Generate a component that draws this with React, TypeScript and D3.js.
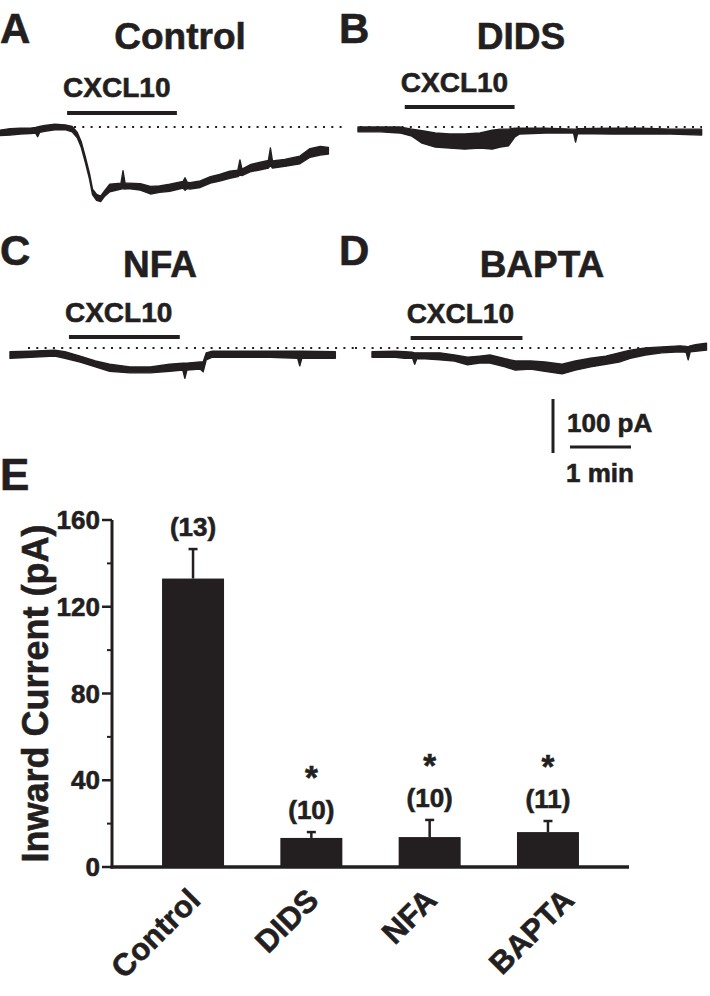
import React from "react";
import * as d3 from "d3";

const INK = "#231f20";
const FONT = "'Liberation Sans', Arial, Helvetica, sans-serif";

type Env = [number, number, number]; // [time (s), upper (pA), lower (pA)]

// ---- Current traces (inward current negative), envelope of the noisy record ----
const controlTrace: Env[] = [
  [0, -6, -16], [10, -3, -15], [20, -2, -13], [30, -2, -12], [35, -1, -11], [37, 0, -18],
  [39, 1, -10], [44, 3, -8], [54, 5, -5], [64, 4, -5], [71, 1, -9], [76, -10, -20],
  [80, -28, -38], [84, -56, -66], [88, -86, -96], [91, -115, -125], [95, -125, -136],
  [99, -128, -138], [103, -118, -128], [108, -106, -120], [119, -104, -115], [121, -81, -114],
  [123, -104, -115], [126, -104, -114], [138, -105, -117], [148, -110, -124], [157, -109, -121],
  [167, -106, -119], [180, -101, -113], [182, -94, -117], [184, -102, -114], [187, -103, -115],
  [197, -100, -112], [207, -92, -104], [216, -88, -100], [226, -82, -95], [234, -80, -92],
  [236, -61, -89], [238, -78, -90], [246, -70, -83], [254, -66, -80], [264, -62, -76],
  [266, -39, -71], [268, -63, -76], [280, -60, -73], [295, -54, -68], [305, -40, -56],
  [315, -36, -52], [323, -38, -50],
];
const didsTrace: Env[] = [
  [0, 0, -9], [22, 0, -9], [41, 0, -11], [53, -4, -17], [63, -7, -30], [76, -11, -37],
  [90, -13, -39], [105, -13, -41], [120, -11, -39], [132, -6, -41], [140, -4, -37],
  [148, -4, -35], [154, -2, -19], [159, -2, -13], [184, -2, -11], [212, -4, -11],
  [214, -4, -28], [216, -3, -12], [249, -2, -13], [278, -2, -13], [308, -4, -13], [338, -4, -15],
];
const nfaTrace: Env[] = [
  [0, -7, -19], [20, -6, -17], [44, -4, -15], [54, -7, -19], [69, -15, -26], [84, -24, -35],
  [98, -30, -43], [118, -35, -46], [138, -35, -46], [157, -30, -43], [170, -28, -41],
  [172, -28, -56], [174, -28, -41], [187, -26, -39], [190, -26, -44], [193, -9, -22],
  [199, -6, -17], [226, -6, -17], [256, -6, -17], [283, -6, -19], [285, -6, -33],
  [287, -6, -19], [320, -7, -19],
];
const baptaTrace: Env[] = [
  [0, -7, -17], [23, -6, -17], [32, -7, -19], [40, -8, -19], [42, -9, -30], [44, -9, -20],
  [52, -9, -20], [67, -9, -22], [81, -13, -24], [94, -17, -31], [106, -15, -28],
  [116, -13, -28], [131, -20, -35], [141, -24, -41], [156, -24, -39], [170, -26, -43],
  [187, -30, -48], [200, -24, -41], [215, -19, -35], [230, -15, -30], [243, -9, -26],
  [254, -4, -19], [269, 0, -13], [285, 2, -9], [303, 4, -7], [309, 3, -8], [311, 2, -22],
  [313, 4, -7], [318, 6, -6], [329, 9, -4],
];

const traceTitles = ["Control", "DIDS", "NFA", "BAPTA"];
const panelLetters = ["A", "B", "C", "D"];
const drugName = "CXCL10";
const cxcl10On = [66, 46, 58, 38]; // s
const cxcl10Off = [174, 154, 167, 148]; // s
const traces = [controlTrace, didsTrace, nfaTrace, baptaTrace];

const scaleBarCurrent = 100; // pA
const scaleBarTime = 60; // s
const scaleBarCurrentLabel = "100 pA";
const scaleBarTimeLabel = "1 min";

// ---- Summary bar chart (panel E) ----
const categories = ["Control", "DIDS", "NFA", "BAPTA"];
const meanCurrent = [133, 13.4, 13.8, 16.1];
const semCurrent = [13.6, 2.7, 7.9, 5.1];
const nCells = [13, 10, 10, 11];
const significant = [false, true, true, true];
const majorTicks = [0, 40, 80, 120, 160];
const minorTicks = [20, 60, 100, 140];
const yLabel = "Inward Current (pA)";

// ---- layout ----
const panels = [
  { x0: 0, base: 127, dot: [74, 345], lx: 0, ly: 43, tx: 180, ty: 49, dly: 97, dby: 113 },
  { x0: 358, base: 127, dot: [360, 702], lx: 339, ly: 43, tx: 521, ty: 49, dly: 92, dby: 107 },
  { x0: 10, base: 348, dot: [28, 355], lx: 0, ly: 265, tx: 160, ty: 277, dly: 322, dby: 337 },
  { x0: 372, base: 348, dot: [355, 708], lx: 339, ly: 265, tx: 542, ty: 277, dly: 323, dby: 338 },
];
const labelNudge: Record<string, number> = { BAPTA: 19 };
const TS = { stroke: INK, strokeWidth: 0.6 };

export default function App() {
  const tScale = d3.scaleLinear().domain([0, 60]).range([0, 61]);
  const iScale = d3.scaleLinear().domain([0, -100]).range([0, 54]);

  const yScale = d3.scaleLinear().domain([0, 160]).range([867, 520]);
  const xBand = d3
    .scaleBand<string>()
    .domain(categories)
    .range([112, 629])
    .paddingInner(0.476)
    .paddingOuter(0.423);
  const bw = xBand.bandwidth();

  return (
    <svg
      width={710}
      height={996}
      viewBox="0 0 710 996"
      style={{ position: "absolute", left: 0, top: 0, display: "block", background: "#fff" }}
      fontFamily={FONT}
      fontWeight="bold"
      fill={INK}
    >
      <rect x={0} y={0} width={710} height={996} fill="#fff" />
      {panels.map((p, i) => {
        const area = d3
          .area<Env>()
          .x((d) => p.x0 + tScale(d[0]))
          .y0((d) => p.base + iScale(d[2]))
          .y1((d) => p.base + iScale(d[1]))
          .curve(d3.curveLinear);
        const onX = p.x0 + tScale(cxcl10On[i]);
        const offX = p.x0 + tScale(cxcl10Off[i]);
        return (
          <g key={i}>
            <text x={p.lx} y={p.ly} fontSize={42} {...TS}>{panelLetters[i]}</text>
            <text x={p.tx} y={p.ty} fontSize={37} textAnchor="middle" {...TS}>{traceTitles[i]}</text>
            <text x={onX - 4} y={p.dly} fontSize={28} {...TS}>{drugName}</text>
            <line x1={onX} x2={offX} y1={p.dby} y2={p.dby} stroke={INK} strokeWidth={4} />
            <line
              x1={p.dot[0]}
              x2={p.dot[1]}
              y1={p.base}
              y2={p.base}
              stroke={INK}
              strokeWidth={2}
              strokeDasharray="2 6.3"
            />
            <path d={area(traces[i]) || ""} fill={INK} stroke={INK} strokeWidth={1.4} strokeLinejoin="round" />
          </g>
        );
      })}

      {/* scale bars */}
      <line x1={553} x2={553} y1={399} y2={399 + iScale(-scaleBarCurrent)} stroke={INK} strokeWidth={3} />
      <line x1={570} x2={570 + tScale(scaleBarTime)} y1={447} y2={447} stroke={INK} strokeWidth={3} />
      <text x={567} y={432} fontSize={26} {...TS}>{scaleBarCurrentLabel}</text>
      <text x={566} y={482} fontSize={26} {...TS}>{scaleBarTimeLabel}</text>

      {/* panel E */}
      <text x={0} y={490} fontSize={44} {...TS}>E</text>
      <text
        transform={`translate(48, ${(yScale(0) + yScale(160)) / 2}) rotate(-90)`}
        fontSize={36}
        textAnchor="middle"
        {...TS}
      >
        {yLabel}
      </text>
      {categories.map((c, i) => {
        const x = xBand(c)!;
        const cx = x + bw / 2;
        const top = yScale(meanCurrent[i]);
        const errTop = yScale(meanCurrent[i] + semCurrent[i]);
        const nY = errTop - 13;
        return (
          <g key={c}>
            <rect x={x} y={top} width={bw} height={yScale(0) - top} fill={INK} />
            <line x1={cx} x2={cx} y1={top} y2={errTop} stroke={INK} strokeWidth={2.5} />
            <line x1={cx - 4.5} x2={cx + 4.5} y1={errTop} y2={errTop} stroke={INK} strokeWidth={2.5} />
            <text x={cx} y={nY} fontSize={26} textAnchor="middle" {...TS}>{`(${nCells[i]})`}</text>
            {significant[i] && (
              <text x={cx} y={nY - 30} fontSize={33} textAnchor="middle" {...TS}>*</text>
            )}
            <text
              transform={`translate(${cx + 9 + (labelNudge[c] || 0)}, 902) rotate(-45)`}
              fontSize={31}
              textAnchor="end"
              {...TS}
            >
              {c}
            </text>
          </g>
        );
      })}
      {/* axes */}
      <line x1={112} x2={112} y1={yScale(160)} y2={yScale(0) + 1.5} stroke={INK} strokeWidth={3} />
      <line x1={110.5} x2={629} y1={yScale(0)} y2={yScale(0)} stroke={INK} strokeWidth={3.5} />
      {majorTicks.map((t) => (
        <g key={t}>
          <line x1={102} x2={112} y1={yScale(t)} y2={yScale(t)} stroke={INK} strokeWidth={2.5} />
          <text x={100} y={yScale(t) + 9} fontSize={26} textAnchor="end" {...TS}>{t}</text>
        </g>
      ))}
      {minorTicks.map((t) => (
        <line key={t} x1={107} x2={112} y1={yScale(t)} y2={yScale(t)} stroke={INK} strokeWidth={2} />
      ))}
    </svg>
  );
}
